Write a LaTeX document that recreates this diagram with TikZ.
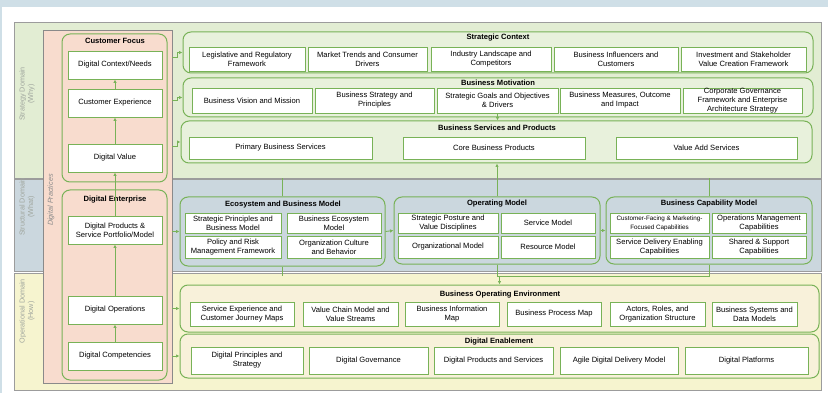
\documentclass[tikz,border=0pt]{standalone}
\usepackage{fontspec}
\setmainfont{Liberation Sans}
\usetikzlibrary{arrows.meta}
\definecolor{gbord}{HTML}{78B257}
\definecolor{stratfill}{HTML}{E2EDD3}
\definecolor{stratbox}{HTML}{E8F1DC}
\definecolor{structfill}{HTML}{CBD7DE}
\definecolor{opfill}{HTML}{F6F4CF}
\definecolor{opbox}{HTML}{F8F1DA}
\definecolor{salmon}{HTML}{F8DCCE}
\definecolor{bandc}{HTML}{CFDFE7}
\definecolor{domb}{HTML}{9C9C9C}
\definecolor{dlabc}{HTML}{A0A69E}
\definecolor{dpc}{HTML}{8A8A8A}
\tikzset{
  ibox/.style={draw=gbord, line width=0.9pt, fill=white, inner sep=0pt, align=center,
    font=\fontsize{7.6}{9}\selectfont},
  cbox/.style={draw=gbord, line width=1pt, rounded corners=8pt, inner sep=0pt},
  dombox/.style={draw=domb, line width=0.6pt, inner sep=0pt},
  ttl/.style={font=\bfseries\fontsize{7.6}{9}\selectfont, inner sep=0pt},
  arr/.style={draw=gbord, line width=0.9pt, -{Latex[length=3.5pt,width=3.5pt]}},
  ln/.style={draw=gbord, line width=0.9pt},
  dlab/.style={text=dlabc, font=\fontsize{7.2}{8.4}\selectfont, align=center, rotate=90, inner sep=0pt},
}
\newcommand\bx[6]{\node[ibox, minimum width={(#4-#2)*1pt}, minimum height={(#5-#3)*1pt}] (#1) at ({(#2+#4)/2},{(#3+#5)/2}) {#6};}
\newcommand\cb[6]{\node[cbox, fill=#6, minimum width={(#4-#2)*1pt}, minimum height={(#5-#3)*1pt}] (#1) at ({(#2+#4)/2},{(#3+#5)/2}) {};}
\newcommand\dm[6]{\node[dombox, fill=#6, minimum width={(#4-#2)*1pt}, minimum height={(#5-#3)*1pt}] (#1) at ({(#2+#4)/2},{(#3+#5)/2}) {};}
\begin{document}
\begin{tikzpicture}[x=1pt,y=-1pt]
\useasboundingbox (0,0) rectangle (828,393);
\fill[bandc] (0,0) rectangle (828,393);
\fill[white] (2,7) rectangle (828,393);
% domains
\dm{dS}{14}{22}{821}{178}{stratfill}
\dm{dT}{14}{179}{821}{271}{structfill}
\dm{dO}{14}{273}{821}{390}{opfill}
\node[dlab] (lS) at (27,94) {Strategy Domain\\(Why)};
\node[dlab] (lT) at (27,207) {Structural Domain\\(What)};
\node[dlab] (lO) at (27,311) {Operational Domain\\(How)};
% digital practices panel
\node[draw=dpc, line width=0.6pt, fill=salmon, minimum width=129pt, minimum height=353pt, inner sep=0pt] (dp) at (107.5,206.5) {};
\node[text=dpc, font=\itshape\fontsize{7.2}{8}\selectfont, rotate=90, inner sep=0pt] (dpl) at (51,200) {Digital Practices};
\cb{cf}{62}{34}{167}{182}{salmon}
\cb{den}{62}{190}{167}{380}{salmon}
\node[ttl] (cft) at (115,41) {Customer Focus};
\node[ttl] (dent) at (115,200) {Digital Enterprise};
\bx{dctx}{68}{51}{162}{79}{Digital Context/Needs}
\bx{cx}{68}{89}{162}{117}{Customer Experience}
\bx{dval}{68}{144}{162}{172}{Digital Value}
\bx{dprod}{68}{216}{162}{244}{Digital Products \&\\Service Portfolio/Model}
\bx{dops}{68}{296}{162}{324}{Digital Operations}
\bx{dcomp}{68}{342}{162}{370}{Digital Competencies}
% strategy containers
\cb{sc}{183}{32}{813}{73}{stratbox}
\cb{bm}{183}{78}{813}{117}{stratbox}
\cb{bs}{181}{121}{812}{163}{stratbox}
\node[ttl] (sct) at (498,38) {Strategic Context};
\node[ttl] (bmt) at (498,83) {Business Motivation};
\node[ttl] (bst) at (497,128) {Business Services and Products};
\bx{sc1}{189}{47}{305}{71}{Legislative and Regulatory\\Framework}
\bx{sc2}{308}{47}{427}{71}{Market Trends and Consumer\\Drivers}
\bx{sc3}{431}{47}{551}{71}{Industry Landscape and\\Competitors}
\bx{sc4}{554}{47}{678}{71}{Business Influencers and\\Customers}
\bx{sc5}{681}{47}{806}{71}{Investment and Stakeholder\\Value Creation Framework}
\bx{bm1}{192}{88}{312}{113}{Business Vision and Mission}
\bx{bm2}{315}{88}{434}{113}{Business Strategy and\\Principles}
\bx{bm3}{437}{88}{558}{113}{Strategic Goals and Objectives\\\& Drivers}
\bx{bm4}{560}{88}{680}{113}{Business Measures, Outcome\\and Impact}
\bx{bm5}{683}{88}{802}{113}{Corporate Governance\\Framework and Enterprise\\Architecture Strategy}
\bx{bs1}{189}{137}{372}{159}{Primary Business Services}
\bx{bs2}{403}{137}{585}{159}{Core Business Products}
\bx{bs3}{616}{137}{797}{159}{Value Add Services}
% structural containers
\cb{eco}{180}{197}{385}{266}{structfill}
\cb{om}{394}{197}{600}{264}{structfill}
\cb{cap}{606}{197}{812}{264}{structfill}
\node[ttl] (ecot) at (283,205) {Ecosystem and Business Model};
\node[ttl] (omt) at (497,204) {Operating Model};
\node[ttl] (capt) at (709,204) {Business Capability Model};
\bx{eco1}{185}{213}{281}{233}{Strategic Principles and\\Business Model}
\bx{eco2}{287}{213}{381}{233}{Business Ecosystem\\Model}
\bx{eco3}{185}{236}{281}{258}{Policy and Risk\\Management Framework}
\bx{eco4}{287}{236}{381}{258}{Organization Culture\\and Behavior}
\bx{om1}{398}{213}{498}{233}{Strategic Posture and\\Value Disciplines}
\bx{om2}{501}{213}{595}{233}{Service Model}
\bx{om3}{398}{236}{498}{258}{Organizational Model}
\bx{om4}{501}{236}{595}{258}{Resource Model}
\bx{cap1}{610}{213}{709}{233}{\fontsize{6.3}{7.8}\selectfont Customer-Facing \& Marketing-\\\fontsize{6.3}{7.8}\selectfont Focused Capabilities}
\bx{cap2}{712}{213}{806}{233}{Operations Management\\Capabilities}
\bx{cap3}{610}{236}{709}{258}{Service Delivery Enabling\\Capabilities}
\bx{cap4}{712}{236}{806}{258}{Shared \& Support\\Capabilities}
% operational containers
\cb{boe}{180}{285}{819}{332}{opbox}
\cb{de}{180}{334}{819}{378}{opbox}
\node[ttl] (boet) at (500,295) {Business Operating Environment};
\node[ttl] (det) at (499,342) {Digital Enablement};
\bx{o1}{190}{302}{294}{326}{Service Experience and\\Customer Journey Maps}
\bx{o2}{303}{302}{398}{326}{Value Chain Model and\\Value Streams}
\bx{o3}{405}{302}{499}{326}{Business Information\\Map}
\bx{o4}{507}{302}{601}{326}{Business Process Map}
\bx{o5}{610}{302}{705}{326}{Actors, Roles, and\\Organization Structure}
\bx{o6}{712}{302}{797}{326}{Business Systems and\\Data Models}
\bx{e1}{191}{347}{303}{374}{Digital Principles and\\Strategy}
\bx{e2}{309}{347}{428}{374}{Digital Governance}
\bx{e3}{434}{347}{553}{374}{Digital Products and Services}
\bx{e4}{560}{347}{678}{374}{Agile Digital Delivery Model}
\bx{e5}{685}{347}{808}{374}{Digital Platforms}
% connectors: left column
\draw[arr] (dcomp.north) -- (dops.south);
\draw[arr] (dops.north) -- (dprod.south);
\draw[arr] (dprod.north) -- (dval.south);
\draw[arr] (dval.north) -- (cx.south);
\draw[arr] (cx.north) -- (dctx.south);
% connectors: panel to domains
\coordinate (s1) at (172,57);
\coordinate (s2) at (172,100);
\coordinate (s3) at (172,146);
\coordinate (sx) at (172,0);
\draw[arr] (s1) -- ++(5,0) |- (sc.west);
\draw[arr] (s2) -- ++(5,0) |- (bm.west);
\draw[arr] (s3) -- ++(5,0) |- (bs.west);
\draw[arr] (sx |- eco.west) -- (eco.west);
\draw[arr] (sx |- boe.west) -- (boe.west);
\draw[arr] (sx |- de.west) -- (de.west);
% structural connectors
\draw[arr] (eco.east) -- (om.west);
\draw[arr] (om.east) -- (cap.west);
\coordinate (t1) at (0,178);
\coordinate (b1) at (0,276);
\draw[ln] (eco.north) -- (eco.north |- t1);
\draw[ln] (cap.north) -- (cap.north |- t1);
\draw[arr] (om.north) -- (om.north |- bs.south);
\draw[arr] (bm3.south) -- (bm3.south |- bs.north);
\draw[ln] (eco.south) -- (eco.south |- b1);
\draw[ln] (om.south) -- (om.south |- b1) -- (cap.south |- b1) -- (cap.south);
\draw[arr] (boe.north |- b1) -- (boe.north);
\end{tikzpicture}
\end{document}
